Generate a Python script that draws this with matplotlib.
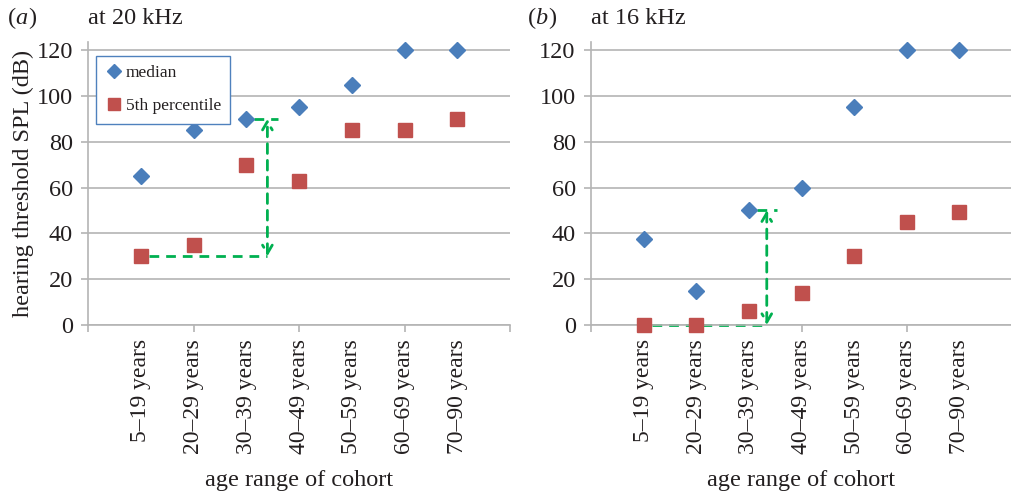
import matplotlib
matplotlib.use("Agg")
import matplotlib.pyplot as plt

plt.rcParams['font.family'] = ['Liberation Serif', 'DejaVu Serif']

categories = ["5\u201319 years", "20\u201329 years", "30\u201339 years", "40\u201349 years",
              "50\u201359 years", "60\u201369 years", "70\u201390 years"]
median_20k = [65, 85, 90, 95, 105, 120, 120]
p5_20k = [30, 35, 70, 63, 85, 85, 90]
median_16k = [37.5, 15, 50, 60, 95, 120, 120]
p5_16k = [0, 0, 6, 14, 30, 45, 49.5]

BLUE = '#4a7ebb'
RED = '#c0504d'
GREEN = '#00b050'
GRID = '#b4b4b4'
TXT = '#231f20'
FS = 17.5

fig = plt.figure(figsize=(10.12, 4.96), dpi=100)
ax1 = fig.add_axes([0.087, 0.345, 0.417, 0.57])
ax2 = fig.add_axes([0.584, 0.345, 0.416, 0.57])

xs = list(range(1, len(categories) + 1))

def style(ax):
    ax.set_xlim(0, 8)
    ax.set_ylim(0, 123.5)
    ax.set_yticks([0, 20, 40, 60, 80, 100, 120])
    ax.yaxis.grid(True, color=GRID, lw=1.2)
    ax.set_axisbelow(True)
    for s in ['top', 'right']:
        ax.spines[s].set_visible(False)
    for s in ['left', 'bottom']:
        ax.spines[s].set_color(GRID)
        ax.spines[s].set_linewidth(1.2)
    ax.xaxis.remove_overlapping_locs = False
    ax.set_xticks(xs)
    ax.set_xticklabels(categories, rotation=90, fontsize=17, color=TXT)
    ax.set_xticks([0, 2, 4, 6, 8], minor=True)
    ax.tick_params(axis='x', which='minor', length=5, color=GRID, width=1.2, direction='out')
    ax.tick_params(axis='x', which='major', length=0, pad=10)
    ax.tick_params(axis='y', length=5, color=GRID, width=1.2, labelsize=FS, labelcolor=TXT, pad=6)
    ax.set_xlabel('age range of cohort', fontsize=FS, color=TXT, labelpad=12)

style(ax1)
style(ax2)

ax1.plot(xs, median_20k, 'D', color=BLUE, ms=8, ls='none', label='median', zorder=3, clip_on=False)
ax1.plot(xs, p5_20k, 's', color=RED, ms=10, ls='none', label='5th percentile', zorder=3, clip_on=False)
ax2.plot(xs, median_16k, 'D', color=BLUE, ms=8, ls='none', zorder=3, clip_on=False)
ax2.plot(xs, p5_16k, 's', color=RED, ms=10, ls='none', zorder=3, clip_on=False)

def arrows(ax, x0, xa, ylow, yhigh, xend):
    ax.plot([x0 + 0.15, xa], [ylow, ylow], color=GREEN, lw=2, ls=(0, (3.5, 2.5)), zorder=2, clip_on=False)
    ax.plot([x0 + 2.15, xend], [yhigh, yhigh], color=GREEN, lw=2, ls=(0, (3.5, 2.5)), zorder=2)
    an = ax.annotate('', xy=(xa, yhigh), xytext=(xa, ylow), annotation_clip=False,
                     arrowprops=dict(arrowstyle='<->,head_length=0.6,head_width=0.35', color=GREEN,
                                     lw=2, ls=(0, (3.5, 2.5)), shrinkA=0, shrinkB=0), zorder=2)
    an.arrow_patch.set_clip_on(False)

arrows(ax1, 1, 3.4, p5_20k[0], median_20k[2], 3.6)
arrows(ax2, 1, 3.34, p5_16k[0], median_16k[2], 3.53)

leg = ax1.legend(loc='upper left', bbox_to_anchor=(0.019, 0.952), fontsize=12.5, frameon=True,
                 fancybox=False, edgecolor='#4f81bd', framealpha=1, handletextpad=0.15,
                 borderpad=0.55, labelspacing=0.95, handlelength=1.0, borderaxespad=0,
                 markerscale=0.85)
leg.get_frame().set_linewidth(1.0)
leg.set_zorder(5)
for t in leg.get_texts():
    t.set_color(TXT)

ax1.set_ylabel('hearing threshold SPL (dB)', fontsize=FS, color=TXT, labelpad=2)

Y = 0.962
fig.text(0.008, Y, '(', fontsize=FS, color=TXT, va='center', ha='left')
fig.text(0.0148, Y, 'a', fontsize=FS, color=TXT, va='center', ha='left', style='italic')
fig.text(0.0275, Y, ')', fontsize=FS, color=TXT, va='center', ha='left')
fig.text(0.087, Y, 'at 20 kHz', fontsize=FS, color=TXT, va='center', ha='left')

fig.text(0.522, Y, '(', fontsize=FS, color=TXT, va='center', ha='left')
fig.text(0.529, Y, 'b', fontsize=FS, color=TXT, va='center', ha='left', style='italic')
fig.text(0.542, Y, ')', fontsize=FS, color=TXT, va='center', ha='left')
fig.text(0.584, Y, 'at 16 kHz', fontsize=FS, color=TXT, va='center', ha='left')

fig.savefig('out.png', dpi=100, facecolor='white')
